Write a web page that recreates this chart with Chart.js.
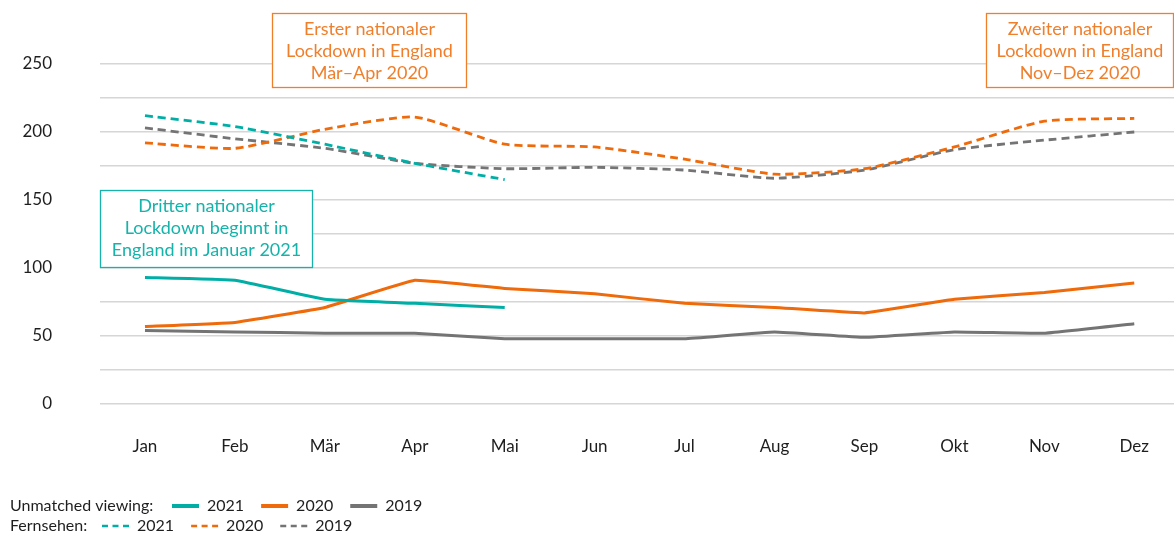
<!DOCTYPE html>
<html>
<head>
<meta charset="utf-8">
<script src="https://cdn.jsdelivr.net/npm/chart.js@4.4.1/dist/chart.umd.min.js"></script>
<style>
  html, body { margin: 0; padding: 0; background: #ffffff; overflow: hidden; }
  #wrap { width: 1181px; height: 537px; position: relative; }
</style>
</head>
<body>
<div id="wrap"><canvas id="myChart"></canvas></div>
<script>
// months on the x axis
const months = ['Jan', 'Feb', 'Mär', 'Apr', 'Mai', 'Jun', 'Jul', 'Aug', 'Sep', 'Okt', 'Nov', 'Dez'];

// unmatched viewing (solid lines)
const unmatched2021 = [93, 91, 77, 74, 71, null, null, null, null, null, null, null];
const unmatched2020 = [57, 60, 71, 91, 85, 81, 74, 71, 67, 77, 82, 89];
const unmatched2019 = [54, 53, 52, 52, 48, 48, 48, 53, 49, 53, 52, 59];

// Fernsehen (dashed lines)
const tv2021 = [212, 204, 191, 177, 165, null, null, null, null, null, null, null];
const tv2020 = [192, 188, 202, 211, 191, 189, 180, 169, 173, 189, 208, 210];
const tv2019 = [203, 195, 188, 177, 173, 174, 172, 166, 172, 187, 194, 200];

// y axis tick labels that are shown
const yTickLabels = [0, 50, 100, 150, 200, 250];

// lockdown notes
const notes = [
    {lines: ['Erster nationaler', 'Lockdown in England', 'Mär–Apr 2020'], color: 'orange'},
    {lines: ['Zweiter nationaler', 'Lockdown in England', 'Nov–Dez 2020'], color: 'orange'},
    {lines: ['Dritter nationaler', 'Lockdown beginnt in', 'England im Januar 2021'], color: 'teal'}
];

const TEAL = '#00aea6';
const ORANGE = '#ee6a0a';
const GREY = '#747474';
const NOTE_ORANGE = '#f07f2c';
const NOTE_TEAL = '#16b3ab';
const FONT = 'Lato, "Open Sans", sans-serif';
const TEXT = '#1e1e1e';

function makeSet(label, group, data, color, dashed) {
    return {
        label: label,
        group: group,
        data: data,
        borderColor: color,
        backgroundColor: color,
        borderWidth: dashed ? 2.8 : 3,
        borderDash: dashed ? [8, 5] : [],
        pointRadius: 0,
        tension: dashed ? 0.18 : 0.08,
        fill: false,
        spanGaps: false
    };
}

// draws the three note boxes, placed by pixel in the chart canvas
const notesPlugin = {
    id: 'notes',
    afterDraw(chart) {
        const ctx = chart.ctx;
        const boxes = [
            {x: 272, y: 13, w: 195, h: 75},
            {x: 986, y: 13, w: 188, h: 75},
            {x: 100, y: 190, w: 213, h: 78}
        ];
        ctx.save();
        for (let i = 0; i < notes.length; i++) {
            let b = boxes[i];
            let c = notes[i].color == 'teal' ? NOTE_TEAL : NOTE_ORANGE;
            ctx.fillStyle = '#ffffff';
            ctx.fillRect(b.x, b.y, b.w, b.h);
            ctx.strokeStyle = c;
            ctx.lineWidth = 1.3;
            ctx.strokeRect(b.x + 0.5, b.y + 0.5, b.w - 1, b.h - 1);
            ctx.fillStyle = c;
            ctx.font = '18px ' + FONT;
            ctx.textAlign = 'center';
            ctx.textBaseline = 'middle';
            for (let k = 0; k < notes[i].lines.length; k++) {
                ctx.fillText(notes[i].lines[k], b.x + b.w / 2, b.y + 16 + k * 22);
            }
        }
        ctx.restore();
    }
};

// custom two-row legend at the bottom
const legendPlugin = {
    id: 'twoRowLegend',
    afterDraw(chart) {
        const ctx = chart.ctx;
        const sets = chart.data.datasets;
        const rows = [
            {title: 'Unmatched viewing:', group: 'unmatched', y: 506, start: 172},
            {title: 'Fernsehen:', group: 'tv', y: 526, start: 102}
        ];
        ctx.save();
        ctx.font = '16px ' + FONT;
        ctx.textBaseline = 'middle';
        ctx.textAlign = 'left';
        for (const row of rows) {
            ctx.fillStyle = TEXT;
            ctx.fillText(row.title, 10, row.y);
            let x = row.start;
            for (const ds of sets) {
                if (ds.group != row.group) continue;
                ctx.strokeStyle = ds.borderColor;
                ctx.lineWidth = ds.borderDash.length ? 2.5 : 4;
                ctx.setLineDash(ds.borderDash.length ? [6, 4.5] : []);
                ctx.beginPath();
                ctx.moveTo(x, row.y);
                ctx.lineTo(x + 27, row.y);
                ctx.stroke();
                ctx.setLineDash([]);
                x += 35;
                ctx.fillStyle = TEXT;
                ctx.fillText(ds.label, x, row.y);
                x += ctx.measureText(ds.label).width + 17;
            }
        }
        ctx.restore();
    }
};

const data = {
    labels: months,
    datasets: [
        makeSet('2021', 'unmatched', unmatched2021, TEAL, false),
        makeSet('2020', 'unmatched', unmatched2020, ORANGE, false),
        makeSet('2019', 'unmatched', unmatched2019, GREY, false),
        makeSet('2021', 'tv', tv2021, TEAL, true),
        makeSet('2020', 'tv', tv2020, ORANGE, true),
        makeSet('2019', 'tv', tv2019, GREY, true)
    ]
};

const config = {
    type: 'line',
    data: data,
    options: {
        responsive: true,
        maintainAspectRatio: false,
        animation: false,
        layout: { padding: { top: 64, right: 0, bottom: 0, left: 0 } },
        scales: {
            x: {
                offset: true,
                grid: { display: false, drawTicks: false },
                border: { display: false },
                ticks: { color: TEXT, font: { family: FONT, size: 17 }, padding: 32, maxRotation: 0 },
                afterFit: function(scale) { scale.height = 133; }
            },
            y: {
                min: 0,
                max: 250,
                grid: { color: '#d6d6d6', lineWidth: 1.5, drawTicks: false },
                border: { display: false },
                ticks: {
                    stepSize: 25,
                    color: TEXT,
                    font: { family: FONT, size: 17 },
                    padding: 48,
                    callback: function(value) {
                        return yTickLabels.includes(value) ? String(value) : '';
                    }
                },
                afterFit: function(scale) { scale.width = 100; }
            }
        },
        plugins: {
            legend: { display: false },
            tooltip: { enabled: false }
        }
    },
    plugins: [notesPlugin, legendPlugin]
};

const myChart = new Chart(document.getElementById('myChart'), config);
</script>
</body>
</html>
